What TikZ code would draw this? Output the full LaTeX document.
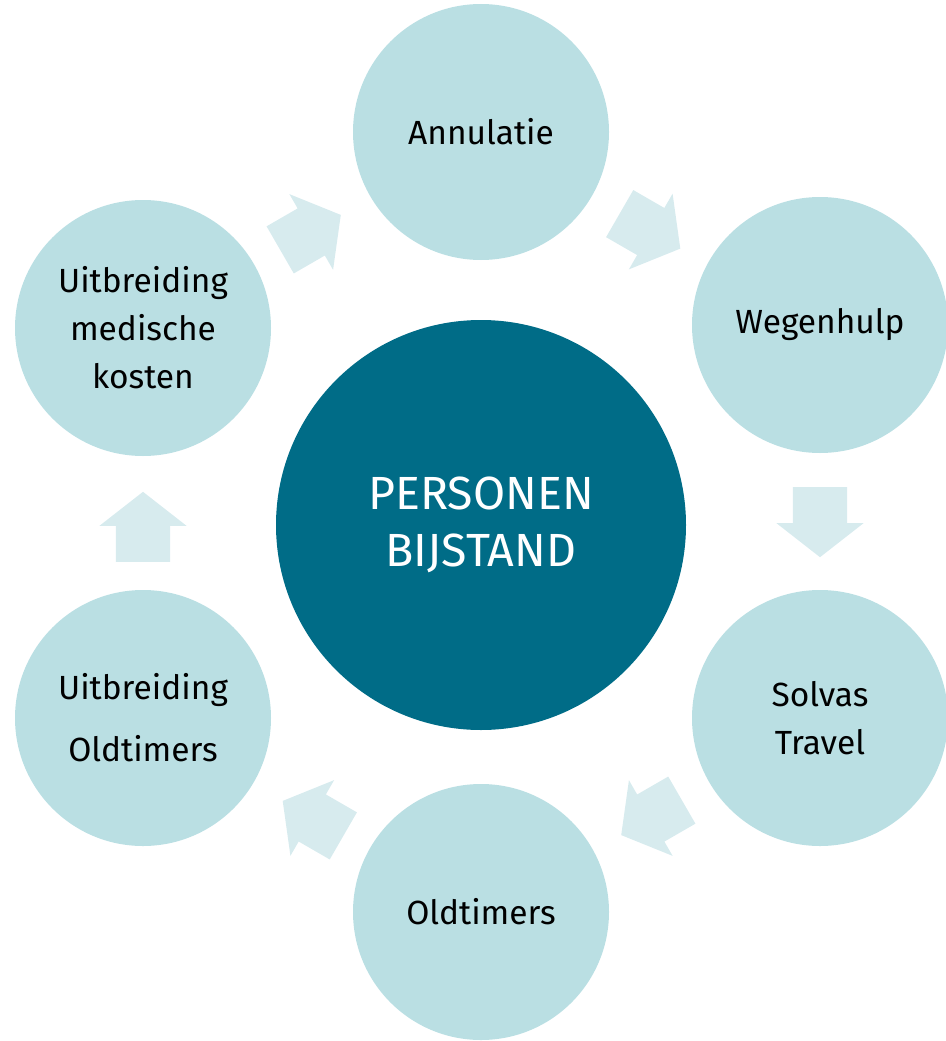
\documentclass[tikz,border=0pt]{standalone}
\usepackage{fontspec}
\setmainfont{Fira Sans}
\usetikzlibrary{shapes.arrows}
\definecolor{coreteal}{RGB}{0,108,135}
\definecolor{ringteal}{RGB}{186,223,227}
\definecolor{flowteal}{RGB}{215,235,238}

\begin{document}
\begin{tikzpicture}[x=1pt, y=-1pt,
  core/.style={circle, fill=coreteal, minimum size=410pt, inner sep=0pt,
    text=white, align=center, font=\fontsize{46.5}{57}\selectfont},
  item/.style={circle, fill=ringteal, minimum size=256pt, inner sep=0pt,
    align=center, font=\fontsize{33.5}{48}\selectfont},
  flow/.style={single arrow, fill=flowteal, inner xsep=0pt, inner ysep=27pt,
    minimum height=70pt, single arrow head extend=16.5pt,
    single arrow tip angle=104, anchor=tail},
]
  \useasboundingbox (0,0) rectangle (945,1041);

  % === centre ===
  \node[core] (bijstand) at (481,525) {PERSONEN\\BIJSTAND};

  % === ring of covers ===
  \node[item] (annulatie) at (481,132) {Annulatie};
  \node[item] (wegenhulp) at (820,325) {Wegenhulp};
  \node[item] (solvas)    at (820,718) {Solvas\\Travel};
  \node[item] (oldtimers) at (481,912) {Oldtimers};
  \node[item] (uitoldt)   at (143,718) {Uitbreiding\\[14pt]Oldtimers};
  \node[item] (uitmed)    at (143,328) {Uitbreiding\\medische\\kosten};

  % === block arrows between covers ===
  \node[flow, rotate=30]  (f1) at (280,250) {};
  \node[flow, rotate=-30] (f2) at (619.5,213.5) {};
  \node[flow, rotate=-90] (f3) at (820,487) {};
  \node[flow, rotate=210] (f4) at (682,800) {};
  \node[flow, rotate=150] (f5) at (343.5,836) {};
  \node[flow, rotate=90]  (f6) at (143,562) {};

\end{tikzpicture}
\end{document}
